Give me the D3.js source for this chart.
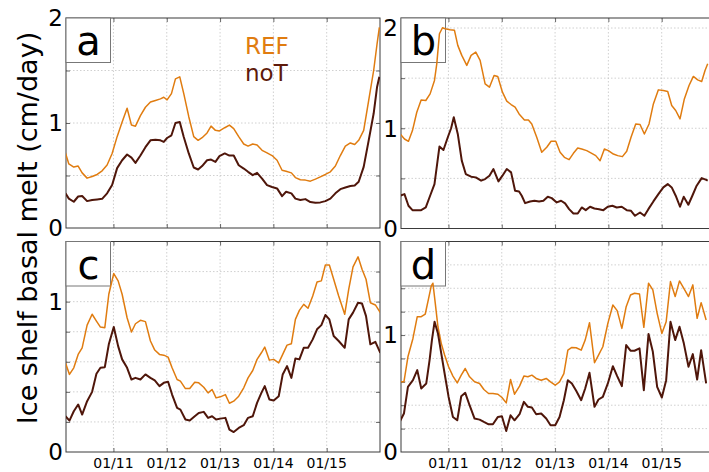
<!DOCTYPE html>
<html><head><meta charset="utf-8">
<script src="https://cdn.jsdelivr.net/npm/d3@7"></script>
<style>html,body{margin:0;padding:0;background:#fff;overflow:hidden}svg{display:block}</style>
</head><body>
<script>
// ---------- DATA ----------
const xTickYears = [2011, 2012, 2013, 2014, 2015];
const xTickLabels = ["01/11", "01/12", "01/13", "01/14", "01/15"];
const seriesNames = ["REF", "noT"];
const panelLetters = ["a", "b", "c", "d"];

// panel a (shared time axis for both series)
const aT = [2010.100,2010.163,2010.256,2010.338,2010.413,2010.506,2010.600,2010.694,2010.788,2010.881,
  2010.975,2011.069,2011.163,2011.256,2011.338,2011.413,2011.506,2011.600,2011.694,2011.788,
  2011.881,2011.944,2012.006,2012.088,2012.163,2012.244,2012.319,2012.413,2012.506,2012.588,
  2012.663,2012.756,2012.831,2012.913,2012.988,2013.088,2013.175,2013.256,2013.350,2013.444,
  2013.525,2013.613,2013.694,2013.788,2013.881,2013.975,2014.069,2014.163,2014.238,2014.338,
  2014.413,2014.506,2014.600,2014.694,2014.788,2014.881,2014.975,2015.069,2015.163,2015.256,
  2015.350,2015.444,2015.525,2015.600,2015.694,2015.788,2015.881,2015.944,2015.988];
const aRef = [0.715,0.61,0.58,0.59,0.525,0.475,0.49,0.51,0.545,0.60,
  0.71,0.87,1.01,1.14,0.98,0.97,1.07,1.15,1.20,1.215,
  1.23,1.245,1.22,1.28,1.42,1.44,1.28,1.06,0.87,0.835,
  0.86,0.905,0.97,0.93,0.924,0.955,0.98,0.946,0.87,0.80,
  0.78,0.80,0.79,0.74,0.715,0.69,0.645,0.55,0.54,0.525,
  0.48,0.46,0.456,0.446,0.465,0.487,0.51,0.535,0.59,0.69,
  0.78,0.81,0.795,0.835,0.93,1.215,1.50,1.75,1.91];
const aNoT = [0.33,0.28,0.25,0.30,0.305,0.256,0.266,0.272,0.278,0.33,
  0.41,0.57,0.645,0.70,0.67,0.62,0.69,0.77,0.835,0.84,
  0.835,0.82,0.857,0.883,1.0,1.01,0.867,0.71,0.576,0.557,
  0.59,0.645,0.652,0.63,0.684,0.71,0.69,0.69,0.598,0.566,
  0.535,0.503,0.525,0.47,0.408,0.39,0.377,0.304,0.345,0.33,
  0.28,0.266,0.275,0.247,0.24,0.244,0.256,0.28,0.33,0.37,
  0.386,0.40,0.405,0.44,0.582,0.835,1.09,1.34,1.44];

// panel b
const bRefT = [2010.094,2010.175,2010.250,2010.325,2010.406,2010.488,2010.575,2010.656,2010.738,2010.781,
  2010.831,2010.888,2010.938,2011.031,2011.113,2011.175,2011.250,2011.344,2011.425,2011.513,
  2011.594,2011.688,2011.769,2011.856,2011.925,2012.013,2012.094,2012.175,2012.250,2012.325,
  2012.425,2012.500,2012.563,2012.656,2012.750,2012.844,2012.925,2013.013,2013.094,2013.175,
  2013.263,2013.344,2013.425,2013.500,2013.594,2013.688,2013.763,2013.844,2013.925,2014.000,
  2014.094,2014.175,2014.263,2014.344,2014.425,2014.513,2014.594,2014.675,2014.763,2014.844,
  2014.938,2015.031,2015.113,2015.188,2015.263,2015.344,2015.425,2015.513,2015.594,2015.675,
  2015.750,2015.813,2015.863];
const bRef = [0.943,0.893,0.87,0.977,1.16,1.283,1.277,1.343,1.477,1.643,
  1.943,2.003,1.993,1.983,1.977,1.827,1.727,1.627,1.727,1.76,
  1.677,1.443,1.41,1.527,1.517,1.36,1.27,1.237,1.21,1.143,
  1.083,1.083,1.043,0.91,0.76,0.81,0.87,0.87,0.76,0.71,
  0.687,0.75,0.803,0.793,0.777,0.75,0.727,0.677,0.793,0.777,
  0.743,0.727,0.717,0.77,0.91,1.043,1.037,0.943,1.043,1.243,
  1.383,1.377,1.367,1.227,1.177,1.093,1.293,1.427,1.517,1.483,
  1.467,1.577,1.643];
const bNoTT = [2010.094,2010.175,2010.250,2010.325,2010.406,2010.488,2010.575,2010.656,2010.738,2010.831,
  2010.906,2010.988,2011.050,2011.100,2011.175,2011.250,2011.325,2011.425,2011.513,2011.613,
  2011.688,2011.769,2011.844,2011.938,2012.013,2012.094,2012.175,2012.250,2012.325,2012.375,
  2012.438,2012.531,2012.613,2012.700,2012.781,2012.863,2012.938,2013.031,2013.113,2013.188,
  2013.263,2013.344,2013.425,2013.500,2013.575,2013.656,2013.738,2013.825,2013.906,2013.988,
  2014.075,2014.156,2014.250,2014.344,2014.425,2014.500,2014.594,2014.675,2014.750,2014.844,
  2014.938,2015.031,2015.113,2015.188,2015.263,2015.344,2015.413,2015.500,2015.575,2015.656,
  2015.750,2015.825,2015.863];
const bNoT = [0.327,0.343,0.227,0.183,0.183,0.183,0.21,0.327,0.443,0.817,
  0.783,0.91,1.0,1.11,0.943,0.677,0.543,0.517,0.51,0.477,
  0.493,0.527,0.593,0.47,0.527,0.593,0.56,0.377,0.37,0.327,
  0.253,0.27,0.277,0.27,0.277,0.317,0.303,0.26,0.277,0.25,
  0.193,0.15,0.15,0.21,0.183,0.217,0.20,0.193,0.183,0.217,
  0.227,0.21,0.217,0.183,0.177,0.127,0.16,0.127,0.193,0.27,
  0.343,0.41,0.443,0.41,0.327,0.217,0.317,0.237,0.327,0.427,
  0.503,0.487,0.477];

// panel c (shared time axis)
const cT = [2010.100,2010.175,2010.256,2010.338,2010.413,2010.506,2010.600,2010.681,2010.756,2010.838,
  2010.913,2011.006,2011.088,2011.163,2011.256,2011.338,2011.413,2011.506,2011.600,2011.694,
  2011.775,2011.863,2011.944,2012.025,2012.100,2012.194,2012.256,2012.350,2012.431,2012.525,
  2012.600,2012.694,2012.775,2012.850,2012.925,2013.006,2013.100,2013.175,2013.256,2013.350,
  2013.444,2013.525,2013.613,2013.694,2013.775,2013.838,2013.925,2014.006,2014.100,2014.175,
  2014.256,2014.338,2014.413,2014.488,2014.569,2014.650,2014.738,2014.819,2014.900,2014.975,
  2015.050,2015.131,2015.225,2015.338,2015.413,2015.494,2015.588,2015.663,2015.738,2015.819,
  2015.913,2016.006];
const cRef = [0.593,0.516,0.56,0.649,0.693,0.844,0.916,0.871,0.831,0.827,
  1.049,1.187,1.138,1.049,0.893,0.798,0.853,0.876,0.867,0.738,
  0.678,0.649,0.644,0.631,0.56,0.482,0.471,0.422,0.422,0.464,
  0.46,0.431,0.393,0.416,0.36,0.367,0.382,0.324,0.338,0.371,
  0.427,0.493,0.542,0.616,0.66,0.698,0.611,0.616,0.593,0.649,
  0.711,0.72,0.882,0.942,0.982,0.956,1.038,1.131,1.138,1.244,
  1.244,1.149,1.038,0.916,1.082,1.231,1.298,1.216,1.149,0.993,
  0.978,0.927];
const cNoT = [0.238,0.209,0.271,0.316,0.249,0.338,0.40,0.52,0.56,0.564,
  0.716,0.831,0.704,0.616,0.56,0.482,0.493,0.482,0.516,0.493,
  0.476,0.438,0.46,0.467,0.382,0.293,0.282,0.216,0.209,0.238,
  0.26,0.267,0.227,0.238,0.216,0.222,0.227,0.149,0.133,0.16,
  0.178,0.227,0.238,0.327,0.393,0.438,0.349,0.342,0.371,0.516,
  0.571,0.493,0.622,0.616,0.693,0.693,0.749,0.816,0.844,0.911,
  0.882,0.771,0.738,0.693,0.882,0.927,0.993,0.987,0.904,0.716,
  0.733,0.66];

// panel d
const dRefT = [2010.084,2010.165,2010.240,2010.334,2010.415,2010.490,2010.565,2010.628,2010.678,2010.709,
  2010.753,2010.803,2010.865,2010.928,2011.003,2011.084,2011.165,2011.240,2011.315,2011.396,
  2011.490,2011.584,2011.665,2011.753,2011.834,2011.928,2012.003,2012.084,2012.165,2012.240,
  2012.334,2012.415,2012.490,2012.565,2012.646,2012.740,2012.834,2012.915,2013.003,2013.084,
  2013.165,2013.240,2013.315,2013.396,2013.490,2013.565,2013.646,2013.740,2013.815,2013.896,
  2013.990,2014.084,2014.165,2014.253,2014.334,2014.415,2014.490,2014.584,2014.665,2014.753,
  2014.834,2014.915,2015.003,2015.084,2015.165,2015.253,2015.334,2015.415,2015.503,2015.584,
  2015.665,2015.740,2015.834];
const dRef = [0.60,0.60,0.814,0.971,1.157,1.157,1.18,1.314,1.42,1.443,
  1.271,1.071,0.929,0.829,0.729,0.649,0.591,0.657,0.714,0.643,
  0.60,0.586,0.534,0.50,0.50,0.494,0.466,0.42,0.62,0.494,
  0.563,0.649,0.643,0.657,0.629,0.614,0.629,0.60,0.571,0.60,
  0.671,0.871,0.894,0.891,0.871,0.957,1.106,0.763,0.829,0.90,
  1.10,1.257,1.209,1.057,1.243,1.343,1.357,1.351,1.066,1.443,
  1.386,1.186,1.014,1.114,1.457,1.329,1.463,1.40,1.329,1.429,
  1.143,1.277,1.129];
const dNoTT = [2010.084,2010.165,2010.240,2010.334,2010.415,2010.490,2010.584,2010.646,2010.690,2010.740,
  2010.803,2010.865,2010.928,2011.003,2011.084,2011.165,2011.240,2011.315,2011.396,2011.490,
  2011.584,2011.665,2011.753,2011.834,2011.928,2012.003,2012.084,2012.165,2012.240,2012.334,
  2012.415,2012.490,2012.565,2012.646,2012.740,2012.834,2012.915,2013.003,2013.084,2013.165,
  2013.240,2013.315,2013.396,2013.490,2013.565,2013.646,2013.740,2013.815,2013.896,2013.990,
  2014.084,2014.165,2014.253,2014.334,2014.415,2014.490,2014.584,2014.665,2014.753,2014.834,
  2014.915,2015.003,2015.084,2015.165,2015.253,2015.334,2015.415,2015.503,2015.584,2015.665,
  2015.740,2015.834];
const dNoT = [0.257,0.329,0.557,0.614,0.70,0.543,0.586,0.786,0.957,1.114,
  1.014,0.843,0.671,0.471,0.30,0.271,0.477,0.506,0.40,0.286,
  0.277,0.257,0.237,0.237,0.30,0.306,0.18,0.314,0.271,0.323,
  0.429,0.386,0.38,0.323,0.329,0.286,0.229,0.229,0.30,0.443,
  0.614,0.586,0.523,0.443,0.543,0.677,0.386,0.449,0.471,0.586,
  0.734,0.649,0.563,0.914,0.866,0.866,0.886,0.529,1.009,0.857,
  0.557,0.466,0.614,1.114,0.957,1.071,0.929,0.729,0.837,0.62,
  0.871,0.586];

// axis ranges / ticks per panel
const yMaxes = [2, 2.1, 1.4, 1.8];
const yTickLabelVals = [[0,1,2],[0,1,2],[0,1],[0,1]];
const yGridVals = [[0.5,1,1.5],[0.5,1,1.5,2],[0.2,0.4,0.6,0.8,1,1.2],[0.2,0.4,0.6,0.8,1,1.2,1.4,1.6]];
const xDomain = [2010.11, 2016.0];

// ---------- DRAW ----------
const W = 709, H = 472;
const colRef = "#e07c10", colNoT = "#4f160a";
const font = "'DejaVu Sans', 'Liberation Sans', sans-serif";

const svg = d3.select("body").append("svg").attr("width", W).attr("height", H)
  .style("font-family", font);

const geo = [
  {x: 66, y: 18, w: 314, h: 210},
  {x: 401, y: 18, w: 314, h: 210.5},
  {x: 66, y: 241.5, w: 314, h: 210.5},
  {x: 401, y: 241.5, w: 314, h: 210.5}
];
const seriesData = [
  [[aT, aRef], [aT, aNoT]],
  [[bRefT, bRef], [bNoTT, bNoT]],
  [[cT, cRef], [cT, cNoT]],
  [[dRefT, dRef], [dNoTT, dNoT]]
];

geo.forEach((g, i) => {
  const x = d3.scaleLinear().domain(xDomain).range([0, g.w]);
  const y = d3.scaleLinear().domain([0, yMaxes[i]]).range([g.h, 0]);
  const p = svg.append("g").attr("transform", `translate(${g.x},${g.y})`);

  svg.append("clipPath").attr("id", "clip" + i)
    .append("rect").attr("width", g.w).attr("height", g.h);

  // grid
  const grid = p.append("g").attr("stroke", "#c4c4c4").attr("stroke-width", 0.8)
    .attr("stroke-dasharray", "1.5,2");
  xTickYears.forEach(t => grid.append("line")
    .attr("x1", x(t)).attr("x2", x(t)).attr("y1", 0).attr("y2", g.h));
  yGridVals[i].forEach(v => grid.append("line")
    .attr("x1", 0).attr("x2", g.w).attr("y1", y(v)).attr("y2", y(v)));

  // axes ticks (inward, all sides)
  const axB = d3.axisBottom(x).tickValues(xTickYears).tickSize(-4).tickFormat("");
  const axT = d3.axisTop(x).tickValues(xTickYears).tickSize(-4).tickFormat("");
  const axL = d3.axisLeft(y).tickValues(yGridVals[i]).tickSize(-4).tickFormat("");
  const axR = d3.axisRight(y).tickValues(yGridVals[i]).tickSize(-4).tickFormat("");
  [[axB, `translate(0,${g.h})`], [axT, "translate(0,0)"], [axL, "translate(0,0)"], [axR, `translate(${g.w},0)`]]
    .forEach(([ax, tr]) => {
      const a = p.append("g").attr("transform", tr).call(ax);
      a.select(".domain").remove();
      a.selectAll("line").attr("stroke", "#444").attr("stroke-width", 0.8);
    });

  // frame
  p.append("rect").attr("width", g.w).attr("height", g.h)
    .attr("fill", "none").attr("stroke", "#3a3a3a").attr("stroke-width", 1);

  // label box
  p.append("rect").attr("x", 0).attr("y", 0).attr("width", 44.5).attr("height", 44.5)
    .attr("fill", "#fff").attr("stroke", "#777").attr("stroke-width", 1);
  p.append("text").attr("x", 22.5).attr("y", 37).attr("text-anchor", "middle")
    .attr("font-size", 40).attr("fill", "#000").text(panelLetters[i]);

  // lines
  const line = d3.line().x(d => x(d[0])).y(d => y(d[1]));
  const lg = p.append("g").attr("clip-path", `url(#clip${i})`);
  seriesData[i].forEach((s, k) => {
    const pts = s[0].map((t, j) => [t, s[1][j]]);
    lg.append("path").datum(pts).attr("d", line).attr("fill", "none")
      .attr("stroke", k === 0 ? colRef : colNoT)
      .attr("stroke-width", k === 0 ? 1.5 : 2)
      .attr("stroke-linejoin", "round");
  });

  // y tick labels
  yTickLabelVals[i].forEach(v => p.append("text")
    .attr("x", -3).attr("y", y(v)).attr("dy", "0.36em")
    .attr("text-anchor", "end").attr("font-size", 23).attr("fill", "#000").text(v));

  // x tick labels (bottom row)
  if (i >= 2) {
    xTickYears.forEach((t, j) => p.append("text")
      .attr("x", x(t)).attr("y", g.h + 16).attr("text-anchor", "middle")
      .attr("font-size", 14).attr("fill", "#000").text(xTickLabels[j]));
  }

  // legend in panel a
  if (i === 0) {
    p.append("text").attr("x", 179).attr("y", 36).attr("font-size", 23)
      .attr("fill", colRef).text(seriesNames[0]);
    p.append("text").attr("x", 179).attr("y", 63).attr("font-size", 23)
      .attr("fill", "#5e1a0a").text(seriesNames[1]);
  }
});

// y axis title
svg.append("text")
  .attr("transform", "translate(37,228) rotate(-90)")
  .attr("text-anchor", "middle").attr("font-size", 27).attr("fill", "#000")
  .text("Ice shelf basal melt (cm/day)");
</script>
</body></html>
